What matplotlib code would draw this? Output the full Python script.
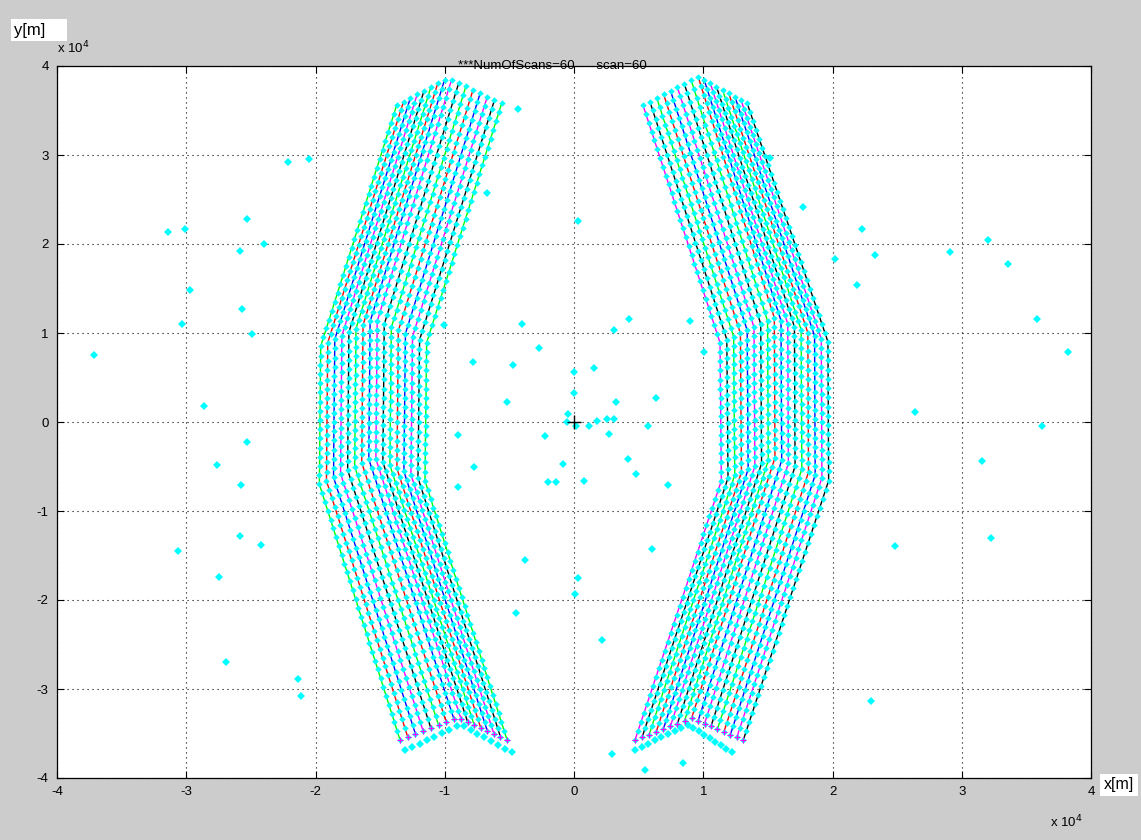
import numpy as np
import matplotlib
matplotlib.use("Agg")
import matplotlib.pyplot as plt

plt.rcParams['font.family'] = ['Liberation Sans', 'DejaVu Sans']
plt.rcParams['axes.unicode_minus'] = False

# all coordinates in units of 1e4 m
# band edges: top, upper kink, lower kink, bottom (left edge, ridge, right edge)
left_a_x = [-1.372, -1.96, -1.97, -1.346]
left_a_y = [3.56, 0.85, -0.70, -3.573]
left_r_x = [-0.975, -1.55, -1.56, -0.898]
left_r_y = [3.865, 1.15, -0.40, -3.326]
left_b_x = [-0.56, -1.14, -1.153, -0.518]
left_b_y = [3.58, 0.89, -0.66, -3.573]

right_a_x = [0.534, 1.13, 1.14, 0.472]
right_a_y = [3.56, 0.89, -0.66, -3.573]
right_r_x = [0.96, 1.55, 1.555, 0.91]
right_r_y = [3.88, 1.17, -0.40, -3.326]
right_b_x = [1.34, 1.965, 1.97, 1.31]
right_b_y = [3.58, 0.90, -0.66, -3.573]

vertex_rows = [0, 27, 42, 71]
n_rows = 72

# predicted next scan (cyan row under each band): left end, peak, right end
next_left_x = [-1.31, -0.88, -0.48]
next_left_y = [-3.69, -3.40, -3.71]
next_right_x = [0.472, 0.88, 1.22]
next_right_y = [-3.685, -3.40, -3.71]

# clutter detections
clut_x = [-2.214, -2.054, -2.527, -3.142, -3.013, -2.398, -2.587, -2.972, -2.568, -3.031,
          -2.488, -3.711, -2.860, -2.527, -2.762, -2.579, -2.587, -2.419, -3.065, -2.749,
          -2.693, -2.134, -2.116,
          2.231, 3.203, 2.018, 2.332, 2.912, 3.356, 2.192, 3.579, 3.823, 2.636,
          3.618, 3.153, 3.226, 2.486, 2.301, 1.772, 1.516,
          -0.434, -0.671, 0.028, -0.401, 0.423, 0.306, -0.273, -0.781, -0.469, 0.156,
          -0.003, -0.003, -0.520, 0.327, 0.633, -0.046, -0.056, 0.015, 0.117, 0.181,
          0.258, 0.309, 0.268, 0.574, -0.898, -0.222, -0.082, -0.770, 0.416, 0.477,
          -0.202, -0.140, 0.077, -0.898, -0.380, 0.028, 0.008, -0.449, 0.217, 0.293,
          0.546, 0.602, -1.008, 0.897, 1.006, 0.727, 0.843]
clut_y = [2.925, 2.960, 2.280, 2.140, 2.170, 2.005, 1.918, 1.483, 1.275, 1.105,
          0.989, 0.753, 0.181, -0.226, -0.487, -0.711, -1.279, -1.378, -1.449, -1.747,
          -2.692, -2.883, -3.074,
          2.166, 2.050, 1.835, 1.876, 1.905, 1.773, 1.540, 1.158, 0.782, 0.116,
          -0.041, -0.440, -1.303, -1.390, -3.130, 2.416, 2.966,
          3.515, 2.569, 2.263, 1.097, 1.152, 1.032, 0.831, 0.671, 0.641, 0.611,
          0.566, 0.330, 0.230, 0.230, 0.275, 0.090, 0.000, -0.045, -0.045, 0.010,
          0.030, 0.030, -0.135, -0.045, -0.150, -0.160, -0.471, -0.511, -0.411, -0.586,
          -0.671, -0.671, -0.661, -0.731, -1.547, -1.753, -1.928, -2.148, -2.444, -3.726,
          -3.911, -1.432, 1.090, 1.135, 0.787, -0.708, -3.830]

color_cycle = ['#00ff00', '#ff0000', '#0000ff', '#ff00ff', '#000000']
cyan = '#00ffff'
msize = 3.3


def edge(xs, ys):
    rows = np.arange(n_rows)
    return np.interp(rows, vertex_rows, xs), np.interp(rows, vertex_rows, ys)


def draw_band(ax, ax_x, ax_y, r_x, r_y, b_x, b_y, n_cols, first_color):
    ex_a, ey_a = edge(ax_x, ax_y)
    ex_r, ey_r = edge(r_x, r_y)
    ex_b, ey_b = edge(b_x, b_y)
    for j in range(n_cols):
        f = j / (n_cols - 1)
        if f <= 0.5:
            t = f * 2
            x = ex_a + (ex_r - ex_a) * t
            y = ey_a + (ey_r - ey_a) * t
        else:
            t = (f - 0.5) * 2
            x = ex_r + (ex_b - ex_r) * t
            y = ey_r + (ey_b - ey_r) * t
        c = color_cycle[(first_color + j) % 5]
        ax.plot(x, y, '-', color=c, lw=1.0, zorder=2)
        ax.plot(x, y, 'D', color=cyan, ms=msize, mew=0, zorder=3)
        ax.plot(x[-1], y[-1], '+', color='#ff00ff', ms=4, mew=0.8, zorder=4)


def draw_next(ax, xs, ys, n_cols):
    f = np.linspace(0, 1, n_cols)
    x = np.interp(f, [0, 0.5, 1], xs)
    y = np.interp(f, [0, 0.5, 1], ys)
    ax.plot(x, y, 'D', color=cyan, ms=3.8, mew=0, zorder=3)


fig = plt.figure(figsize=(11.41, 8.40), dpi=100, facecolor='#cccccc')
ax = fig.add_axes([57 / 1141, 1 - 778 / 840, (1091 - 57) / 1141, (778 - 66) / 840])

draw_band(ax, left_a_x, left_a_y, left_r_x, left_r_y, left_b_x, left_b_y, 16, 0)
draw_band(ax, right_a_x, right_a_y, right_r_x, right_r_y, right_b_x, right_b_y, 17, 3)
draw_next(ax, next_left_x, next_left_y, 16)
draw_next(ax, next_right_x, next_right_y, 17)

ax.plot(clut_x, clut_y, 'D', color=cyan, ms=3.8, mew=0, zorder=3)
ax.plot([0], [0], '+', color='k', ms=10, mew=1, zorder=5)

ax.set_xlim(-4, 4)
ax.set_ylim(-4, 4)
ax.set_xticks(range(-4, 5))
ax.set_yticks(range(-4, 5))
ax.grid(True, color='k', linestyle=(0, (1, 3.5)), lw=0.8)
ax.tick_params(direction='in', length=5, top=True, right=True, labelsize=9.5, pad=6)
for s in ax.spines.values():
    s.set_linewidth(0.9)

ax.text(-0.17, 4.0, '***NumOfScans=60      scan=60', ha='center', va='center',
        fontsize=9.5, clip_on=False, zorder=6)

fig.text(14 / 1141, 1 - 30 / 840, 'y[m]    ', fontsize=12, va='center', ha='left',
         bbox=dict(facecolor='white', edgecolor='none', pad=2.5))
fig.text(1104 / 1141, 1 - 785 / 840, 'x[m]', fontsize=11.5, va='center', ha='left',
         bbox=dict(facecolor='white', edgecolor='none', pad=2.5))
fig.text(57 / 1141, 1 - 48 / 840, r'x 10$^{4}$', fontsize=9.5, va='center', ha='left')
fig.text(1050 / 1141, 1 - 822 / 840, r'x 10$^{4}$', fontsize=9.5, va='center', ha='left')

fig.savefig('out.png', dpi=100, facecolor=fig.get_facecolor())
